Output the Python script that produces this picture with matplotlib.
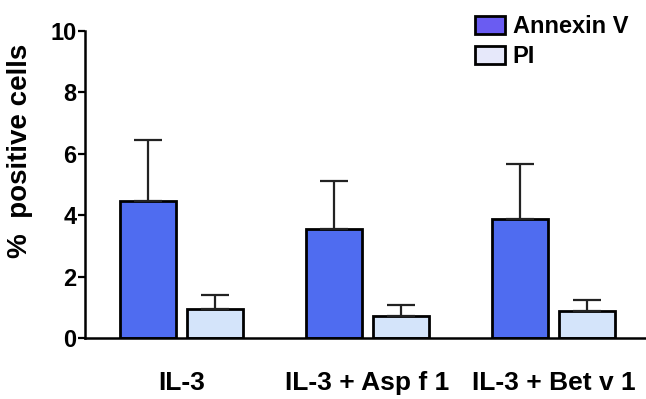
import numpy as np
import matplotlib.pyplot as plt
from matplotlib.patches import Patch

plt.rcParams['font.family'] = ['Liberation Sans', 'DejaVu Sans']
plt.rcParams['font.weight'] = 'bold'

# values
groups = ['IL-3', 'IL-3 + Asp f 1', 'IL-3 + Bet v 1']
annexin = [4.46, 3.55, 3.88]
annexin_err = [1.99, 1.56, 1.79]
pi = [0.94, 0.72, 0.88]
pi_err = [0.46, 0.35, 0.36]

annexin_col = '#4f6cf0'
pi_col = '#d4e4fa'

fig = plt.figure(figsize=(6.46, 3.99), dpi=100)
ax = fig.add_axes([0.1316, 0.1529, 0.8684, 0.7694])

x = np.arange(len(groups))
w = 0.30
off = 0.18
ekw = dict(elinewidth=1.6, capthick=1.6, capsize=10, ecolor='#222222')
ax.bar(x - off, annexin, w, color=annexin_col, edgecolor='black', linewidth=2,
       yerr=[np.zeros(3), annexin_err], error_kw=ekw, zorder=2)
ax.bar(x + off, pi, w, color=pi_col, edgecolor='black', linewidth=2,
       yerr=[np.zeros(3), pi_err], error_kw=ekw, zorder=2)

ax.set_xlim(-0.519, 2.497)
ax.set_ylim(0, 10)
ax.set_yticks([0, 2, 4, 6, 8, 10])
ax.set_xticks(x)
ax.set_xticklabels(groups, fontsize=19, fontweight='bold')
ax.tick_params(axis='x', length=0, pad=24)
ax.tick_params(axis='y', length=5, width=1.6, labelsize=17, pad=1)
for lab in ax.get_yticklabels():
    lab.set_fontweight('bold')
ax.spines['top'].set_visible(False)
ax.spines['right'].set_visible(False)
ax.spines['left'].set_linewidth(1.8)
ax.spines['bottom'].set_linewidth(1.8)
ax.set_ylabel('%  positive cells', fontsize=20, fontweight='bold')
ax.yaxis.set_label_coords(-0.093, 0.61)

handles = [Patch(facecolor='#6a5cf2', edgecolor='black', linewidth=2, label='Annexin V'),
           Patch(facecolor='#e6e8fa', edgecolor='black', linewidth=2, label='PI')]
ax.legend(handles=handles, loc='upper left', bbox_to_anchor=(0.735, 0.962),
          bbox_transform=fig.transFigure, frameon=False,
          prop={'size': 17, 'weight': 'bold'}, handlelength=1.27, handleheight=0.85,
          handletextpad=0.34, labelspacing=0.3, borderaxespad=0, borderpad=0)

fig.savefig('out.png', dpi=100)
